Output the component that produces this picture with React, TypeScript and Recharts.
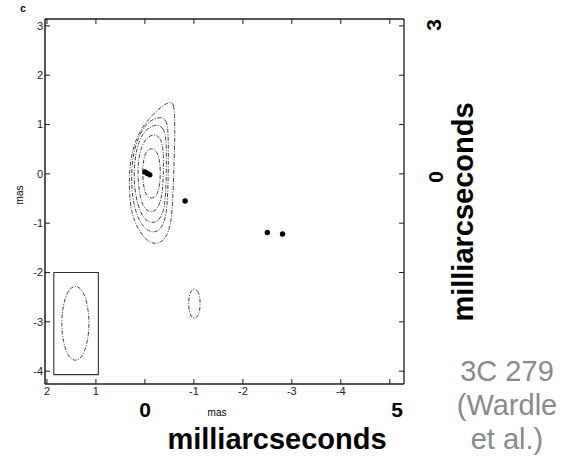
import React from 'react';
import { ComposedChart, XAxis, YAxis, Line, Scatter, ReferenceArea } from 'recharts';

// Axis ticks (mas)
const xTicks = [2, 1, 0, -1, -2, -3, -4, -5];
const xTickLabels: Record<string, string> = { '2': '2', '1': '1', '0': '', '-1': '-1', '-2': '-2', '-3': '-3', '-4': '-4', '-5': '' };
const yTicks = [3, 2, 1, 0, -1, -2, -3, -4];
const xDomain = [-5.29, 2.04];
const yDomain = [-4.26, 3.14];

// Contours (mas, RA offset x, Dec offset y)
const contour1 = [
  { x: -0.13, y: 0.53 }, { x: -0.24, y: 0.47 }, { x: -0.3, y: 0.3 }, { x: -0.32, y: 0.02 },
  { x: -0.3, y: -0.26 }, { x: -0.24, y: -0.45 }, { x: -0.13, y: -0.51 }, { x: -0.03, y: -0.45 },
  { x: 0.03, y: -0.26 }, { x: 0.05, y: 0.02 }, { x: 0.03, y: 0.3 }, { x: -0.03, y: 0.47 },
];
const contour2 = [
  { x: -0.2, y: 0.81 }, { x: -0.32, y: 0.73 }, { x: -0.38, y: 0.51 }, { x: -0.38, y: 0.06 },
  { x: -0.36, y: -0.38 }, { x: -0.3, y: -0.63 }, { x: -0.2, y: -0.77 }, { x: -0.07, y: -0.77 },
  { x: 0.05, y: -0.65 }, { x: 0.11, y: -0.4 }, { x: 0.15, y: -0.04 }, { x: 0.13, y: 0.3 },
  { x: 0.07, y: 0.57 }, { x: -0.05, y: 0.75 },
];
const contour3 = [
  { x: -0.26, y: 1.01 }, { x: -0.38, y: 0.93 }, { x: -0.44, y: 0.71 }, { x: -0.44, y: 0.06 },
  { x: -0.42, y: -0.55 }, { x: -0.36, y: -0.83 }, { x: -0.24, y: -0.99 }, { x: -0.09, y: -0.99 },
  { x: 0.05, y: -0.87 }, { x: 0.15, y: -0.63 }, { x: 0.22, y: -0.24 }, { x: 0.22, y: 0.16 },
  { x: 0.17, y: 0.51 }, { x: 0.07, y: 0.79 }, { x: -0.09, y: 0.95 },
];
const contour4 = [
  { x: -0.32, y: 1.17 }, { x: -0.44, y: 1.09 }, { x: -0.48, y: 0.87 }, { x: -0.48, y: 0.06 },
  { x: -0.46, y: -0.65 }, { x: -0.4, y: -0.99 }, { x: -0.28, y: -1.17 }, { x: -0.13, y: -1.19 },
  { x: 0.03, y: -1.09 }, { x: 0.17, y: -0.85 }, { x: 0.26, y: -0.45 }, { x: 0.28, y: -0.04 },
  { x: 0.24, y: 0.43 }, { x: 0.11, y: 0.81 }, { x: -0.07, y: 1.07 },
];
const contour5 = [
  { x: -0.53, y: 1.48 }, { x: -0.59, y: 1.4 }, { x: -0.61, y: 1.17 }, { x: -0.61, y: 0.67 },
  { x: -0.59, y: 0.06 }, { x: -0.57, y: -0.55 }, { x: -0.53, y: -1.05 }, { x: -0.42, y: -1.32 },
  { x: -0.24, y: -1.44 }, { x: -0.03, y: -1.36 }, { x: 0.15, y: -1.11 }, { x: 0.28, y: -0.79 },
  { x: 0.32, y: -0.34 }, { x: 0.32, y: 0.06 }, { x: 0.26, y: 0.47 }, { x: 0.13, y: 0.83 },
  { x: -0.07, y: 1.11 }, { x: -0.32, y: 1.36 },
];
const smallContour = [
  { x: -1.01, y: -2.32 }, { x: -1.08, y: -2.37 }, { x: -1.12, y: -2.48 }, { x: -1.13, y: -2.63 },
  { x: -1.12, y: -2.78 }, { x: -1.08, y: -2.89 }, { x: -1.01, y: -2.94 }, { x: -0.94, y: -2.89 },
  { x: -0.9, y: -2.78 }, { x: -0.89, y: -2.63 }, { x: -0.9, y: -2.48 }, { x: -0.94, y: -2.37 },
];
const beamEllipse = [
  { x: 1.42, y: -2.25 }, { x: 1.57, y: -2.35 }, { x: 1.67, y: -2.64 }, { x: 1.71, y: -3.03 },
  { x: 1.67, y: -3.42 }, { x: 1.57, y: -3.71 }, { x: 1.42, y: -3.81 }, { x: 1.27, y: -3.71 },
  { x: 1.17, y: -3.42 }, { x: 1.13, y: -3.03 }, { x: 1.17, y: -2.64 }, { x: 1.27, y: -2.35 },
];
const beamBox = { x1: 1.86, x2: 0.95, y1: -2.0, y2: -4.07 };

// Model components (filled dots)
const components = [
  { x: 0.0, y: 0.04 }, { x: -0.05, y: 0.01 }, { x: -0.1, y: -0.02 },
  { x: -0.82, y: -0.55 }, { x: -2.5, y: -1.19 }, { x: -2.81, y: -1.22 },
];

const contours = [contour1, contour2, contour3, contour4, contour5, smallContour, beamEllipse];

const FONT = '"Liberation Sans", Arial, Helvetica, sans-serif';
const AX = '#1e1e1e';

const T = ({ x, y, size, bold, color, rot, children }: any) => (
  <div
    style={{
      position: 'absolute', left: x, top: y,
      transform: `translate(-50%, -50%) rotate(${rot || 0}deg)`,
      fontSize: size, fontWeight: bold ? 'bold' : 'normal', color: color || '#000',
      whiteSpace: 'nowrap', lineHeight: 1, fontFamily: FONT,
    }}
  >
    {children}
  </div>
);

export default function App() {
  const tickStyle = { fontSize: 11, fill: '#222', fontFamily: FONT };
  return (
    <div style={{ position: 'absolute', left: 0, top: 0, width: 565, height: 465, background: '#fff', overflow: 'hidden' }}>
      <ComposedChart width={565} height={465} margin={{ top: 18, right: 160, bottom: 56, left: 15 }}>
        <XAxis
          dataKey="x" type="number" domain={xDomain} reversed allowDataOverflow ticks={xTicks}
          height={25} tickSize={-5} tickMargin={8} tick={tickStyle}
          tickFormatter={(v: number) => xTickLabels[String(v)] ?? String(v)}
          axisLine={{ stroke: AX, strokeWidth: 1.3 }} tickLine={{ stroke: AX }}
        />
        <XAxis
          xAxisId="top" orientation="top" dataKey="x" type="number" domain={xDomain} reversed allowDataOverflow
          ticks={xTicks} height={1} tickSize={-5} tickMargin={0} tickFormatter={() => ''}
          axisLine={{ stroke: AX, strokeWidth: 1.3 }} tickLine={{ stroke: AX }}
        />
        <YAxis
          dataKey="y" type="number" domain={yDomain} allowDataOverflow ticks={yTicks}
          width={30} tickSize={-5} tickMargin={7} tick={tickStyle}
          axisLine={{ stroke: AX, strokeWidth: 1.5 }} tickLine={{ stroke: AX }}
        />
        <YAxis
          yAxisId="right" orientation="right" dataKey="y" type="number" domain={yDomain} allowDataOverflow
          ticks={yTicks} width={1} tickSize={-5} tickMargin={0} tickFormatter={() => ''}
          axisLine={{ stroke: AX, strokeWidth: 1.3 }} tickLine={{ stroke: AX }}
        />
        <ReferenceArea
          x1={beamBox.x1} x2={beamBox.x2} y1={beamBox.y1} y2={beamBox.y2}
          fill="none" fillOpacity={0} stroke="#333" strokeWidth={1.1} ifOverflow="visible"
        />
        {contours.map((c, i) => (
          <Line
            key={i} data={c} dataKey="y" type="basisClosed" dot={false} activeDot={false}
            stroke="#3a3a3a" strokeWidth={0.95} strokeDasharray="4 1.5 1 1.5" isAnimationActive={false}
            legendType="none"
          />
        ))}
        <Scatter
          data={components} dataKey="y" isAnimationActive={false}
          shape={(p: any) => <circle cx={p.cx} cy={p.cy} r={2.7} fill="#000" />}
        />
        <Scatter
          xAxisId="top" yAxisId="right" data={components} dataKey="y" isAnimationActive={false}
          shape={() => <g />} legendType="none"
        />
      </ComposedChart>

      <T x={23} y={9} size={10} bold>c</T>
      <T x={20} y={195} size={10} rot={-90}>mas</T>
      <T x={217} y={413} size={10}>mas</T>
      <T x={145} y={409} size={21} bold>0</T>
      <T x={397} y={409} size={21} bold>5</T>
      <T x={277} y={439} size={29} bold>milliarcseconds</T>
      <T x={433} y={25} size={21} bold rot={-90}>3</T>
      <T x={435} y={177} size={21} bold rot={-90}>0</T>
      <T x={463} y={212} size={29} bold rot={-90}>milliarcseconds</T>
      <T x={507} y={371} size={29} color="#8a8a8a">3C 279</T>
      <T x={507} y={405} size={29} color="#8a8a8a">(Wardle</T>
      <T x={507} y={439} size={29} color="#8a8a8a">et al.)</T>
    </div>
  );
}
